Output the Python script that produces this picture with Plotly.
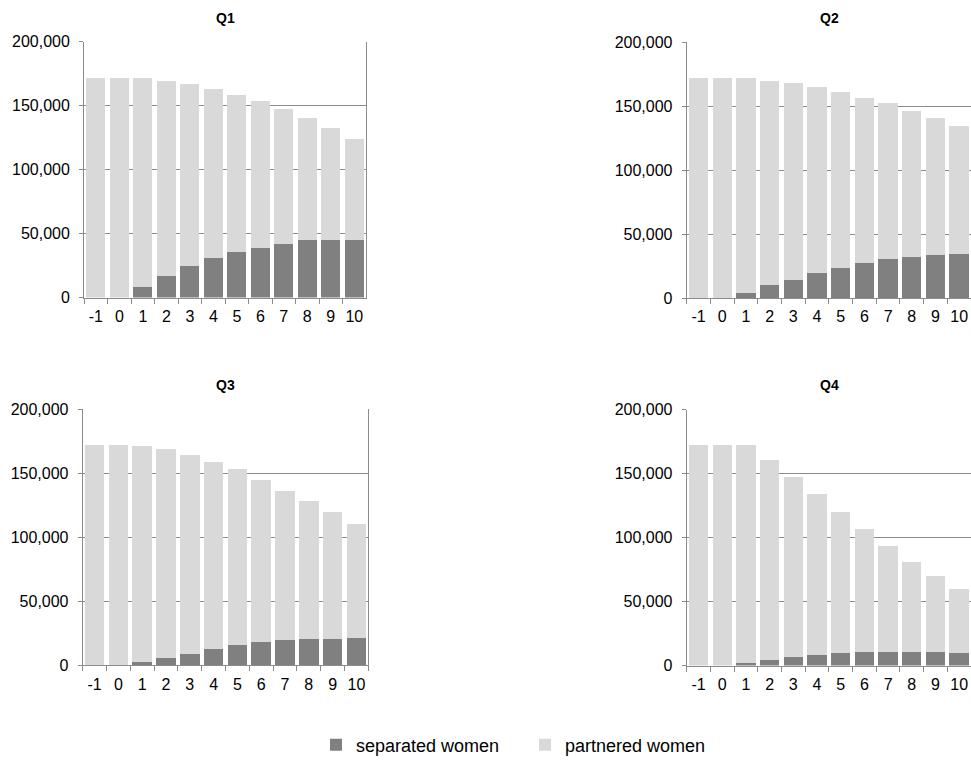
import plotly.graph_objects as go

categories = ["-1", "0", "1", "2", "3", "4", "5", "6", "7", "8", "9", "10"]

q1_total = [172000, 172000, 172000, 169500, 166600, 163000, 158300, 153400, 147200, 140700, 132400, 123600]
q1_separated = [0, 0, 8000, 16800, 24400, 30600, 35500, 39100, 42200, 44600, 45300, 45300]

q2_total = [172000, 172000, 172000, 169700, 167700, 164600, 160900, 156500, 152100, 146200, 141000, 134800]
q2_separated = [0, 0, 3900, 10100, 14500, 19400, 23300, 27200, 30300, 32300, 33900, 34400]

q3_total = [172100, 172000, 171300, 168500, 163800, 158900, 153000, 144700, 136200, 128200, 119400, 110300]
q3_separated = [0, 0, 2300, 5700, 9000, 12700, 16000, 18100, 19400, 20900, 20900, 21700]

q4_total = [172000, 172000, 172000, 160400, 147500, 134300, 120100, 106600, 93100, 81200, 69900, 59800]
q4_separated = [0, 0, 2300, 4400, 6500, 8000, 9600, 10300, 10300, 10300, 10300, 9600]

panel_titles = ["Q1", "Q2", "Q3", "Q4"]
series_names = ["separated women", "partnered women"]

totals = [q1_total, q2_total, q3_total, q4_total]
separated = [q1_separated, q2_separated, q3_separated, q4_separated]

y_ticks = [0, 50000, 100000, 150000, 200000]
y_tick_labels = ["0", "50,000", "100,000", "150,000", "200,000"]

SEP_COLOR = "#808080"
PART_COLOR = "#d9d9d9"
AXIS_COLOR = "#8c8c8c"
FONT = "Liberation Sans, Arial, sans-serif"

x_domains = [[0.0866, 0.377], [0.7072, 1.0], [0.0852, 0.3793], [0.7072, 1.0]]
y_domains = [[0.608, 0.945], [0.607, 0.9446], [0.1234, 0.461], [0.1231, 0.4603]]

fig = go.Figure()
layout = {}
for i in range(4):
    xa = "x" if i == 0 else f"x{i+1}"
    ya = "y" if i == 0 else f"y{i+1}"
    partnered = [t - s for t, s in zip(totals[i], separated[i])]
    fig.add_trace(go.Bar(x=categories, y=separated[i], name=series_names[0],
                         marker=dict(color=SEP_COLOR, line=dict(width=0)),
                         xaxis=xa, yaxis=ya, showlegend=(i == 0), legendgroup="sep"))
    fig.add_trace(go.Bar(x=categories, y=partnered, name=series_names[1],
                         marker=dict(color=PART_COLOR, line=dict(width=0)),
                         xaxis=xa, yaxis=ya, showlegend=(i == 0), legendgroup="part"))
    xkey = "xaxis" if i == 0 else f"xaxis{i+1}"
    ykey = "yaxis" if i == 0 else f"yaxis{i+1}"
    layout[xkey] = dict(domain=x_domains[i], anchor=ya, type="category",
                        showline=True, linecolor=AXIS_COLOR, linewidth=1,
                        ticks="outside", tickson="boundaries", ticklen=5,
                        tickcolor=AXIS_COLOR, showgrid=False, automargin=False,
                        tickangle=0, ticklabelstandoff=4,
                        tickfont=dict(size=16, color="#000000", family=FONT),
                        fixedrange=True)
    layout[ykey] = dict(domain=y_domains[i], anchor=xa, range=[0, 200000],
                        tickvals=y_ticks, ticktext=y_tick_labels,
                        showline=True, linecolor=AXIS_COLOR, linewidth=1, mirror=True,
                        ticks="outside", ticklen=4, tickcolor=AXIS_COLOR,
                        showgrid=True, gridcolor=AXIS_COLOR, gridwidth=1,
                        zeroline=False, automargin=False, ticklabelstandoff=6,
                        tickfont=dict(size=16, color="#000000", family=FONT),
                        fixedrange=True)

annotations = []
title_pos = [(225, 18), (829, 18), (225, 388), (829, 388)]
for t, (px, py) in zip(panel_titles, title_pos):
    annotations.append(dict(text=f"<b>{t}</b>", x=px / 971, y=1 - py / 764,
                            xref="paper", yref="paper", showarrow=False,
                            xanchor="center", yanchor="middle",
                            font=dict(size=14, color="#000000", family=FONT)))

fig.update_layout(
    **layout,
    annotations=annotations,
    barmode="stack",
    bargap=0.18,
    width=971, height=764,
    margin=dict(l=0, r=0, t=0, b=0),
    paper_bgcolor="white", plot_bgcolor="white",
    font=dict(family=FONT, color="#000000"),
    legend=dict(orientation="h", x=316 / 971, y=1 - 750 / 764, xanchor="left", yanchor="middle",
                font=dict(size=18, family=FONT, color="#000000"),
                traceorder="normal", itemwidth=30, entrywidth=164, entrywidthmode="pixels"),
)

fig.write_html("out.html", config={"displayModeBar": False},
               post_script="document.body.style.margin='0';document.body.style.overflow='hidden';")
